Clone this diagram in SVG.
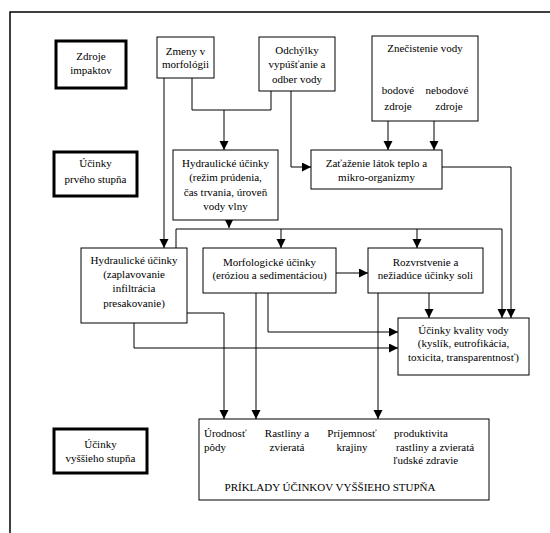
<svg xmlns="http://www.w3.org/2000/svg" width="550" height="533" viewBox="0 0 550 533" font-family="Liberation Serif, Times New Roman, DejaVu Serif, serif">
<style>
.box{fill:#fff;stroke:#000;stroke-width:1}
.thick{fill:#fff;stroke:#000;stroke-width:3}
text{font-family:'Liberation Serif','Times New Roman','DejaVu Serif',serif;font-size:11px;fill:#000}
.c{text-anchor:middle}
.ln{fill:none;stroke:#000;stroke-width:1}
.ar{fill:none;stroke:#000;stroke-width:1;marker-end:url(#ah)}
</style>
<defs>
<marker id="ah" markerUnits="userSpaceOnUse" markerWidth="9" markerHeight="10" refX="9" refY="4.5" orient="auto">
<path d="M0,0 L9,4.5 L0,9 z" fill="#000"/>
</marker>
</defs>
<rect width="550" height="533" fill="#fff"/>
<path d="M10,533 V12 H550" fill="none" stroke="#000" stroke-width="1.5"/>

<g id="connectors">
<path class="ar" d="M164,78 V248"/>
<path class="ln" d="M192,78 V110 H271 V91"/>
<path class="ar" d="M224,110 V150"/>
<path class="ar" d="M291,91 V167 H311"/>
<path class="ar" d="M388,121 V150"/>
<path class="ar" d="M434,121 V150"/>
<path class="ar" d="M442,167 H511 V318"/>
<path class="ar" d="M229,220 V228"/>
<path class="ar" d="M176,248 V229 H502 V318"/>
<path class="ar" d="M281,229 V248"/>
<path class="ar" d="M417,229 V248"/>
<path class="ar" d="M336,273 H368"/>
<path class="ar" d="M429,293 V318"/>
<path class="ar" d="M378,293 V419"/>
<path class="ar" d="M268,293 V332 H398"/>
<path class="ar" d="M134,323 V348 H398"/>
<path class="ar" d="M187,313 H224 V419"/>
<path class="ar" d="M256,293 V419"/>
</g>

<g id="zdroje-impaktov">
<rect class="thick" x="56" y="41" width="70" height="47"/>
<text class="c" x="91" y="60">Zdroje</text>
<text class="c" x="91" y="74">impaktov</text>
</g>
<g id="ucinky-prveho">
<rect class="thick" x="54" y="152" width="83" height="44"/>
<text class="c" x="95.5" y="167">Účinky</text>
<text class="c" x="95.5" y="183">prvého stupňa</text>
</g>
<g id="ucinky-vyssieho">
<rect class="thick" x="54" y="429" width="93" height="44"/>
<text class="c" x="100.5" y="448">Účinky</text>
<text class="c" x="100.5" y="462">vyššieho stupňa</text>
</g>

<g id="zmeny">
<rect class="box" x="157" y="37" width="57" height="41"/>
<text class="c" x="185.5" y="55">Zmeny v</text>
<text class="c" x="185.5" y="68">morfológii</text>
</g>
<g id="odchylky">
<rect class="box" x="259" y="37" width="76" height="54"/>
<text class="c" x="297" y="54">Odchýlky</text>
<text class="c" x="297" y="68">vypúšťanie a</text>
<text class="c" x="297" y="83">odber vody</text>
</g>
<g id="znecistenie">
<rect class="box" x="372" y="36" width="106" height="85"/>
<text class="c" x="425" y="52">Znečistenie vody</text>
<text class="c" x="398" y="94">bodové</text>
<text class="c" x="447" y="94">nebodové</text>
<text class="c" x="398" y="110">zdroje</text>
<text class="c" x="449" y="110">zdroje</text>
</g>
<g id="zatazenie">
<rect class="box" x="311" y="150" width="131" height="39"/>
<text class="c" x="376.5" y="167">Zaťaženie látok teplo a</text>
<text class="c" x="376.5" y="181">mikro-organizmy</text>
</g>
<g id="hydraulicke-rezim">
<rect class="box" x="173" y="150" width="105" height="70"/>
<text class="c" x="225.5" y="167">Hydraulické účinky</text>
<text class="c" x="225.5" y="181">(režim prúdenia,</text>
<text class="c" x="225.5" y="196">čas trvania, úroveň</text>
<text class="c" x="225.5" y="210">vody vlny</text>
</g>
<g id="hydraulicke-zaplavovanie">
<rect class="box" x="81" y="248" width="106" height="75"/>
<text class="c" x="134" y="264">Hydraulické účinky</text>
<text class="c" x="134" y="278">(zaplavovanie</text>
<text class="c" x="134" y="292">infiltrácia</text>
<text class="c" x="134" y="307">presakovanie)</text>
</g>
<g id="morfologicke">
<rect class="box" x="203" y="248" width="133" height="45"/>
<text class="c" x="269.5" y="266">Morfologické účinky</text>
<text class="c" x="269.5" y="279">(eróziou a sedimentáciou)</text>
</g>
<g id="rozvrstvenie">
<rect class="box" x="368" y="248" width="115" height="45"/>
<text class="c" x="425.5" y="266">Rozvrstvenie a</text>
<text class="c" x="425.5" y="279">nežiadúce účinky soli</text>
</g>
<g id="kvalita">
<rect class="box" x="398" y="318" width="131" height="57"/>
<text class="c" x="463.5" y="334">Účinky kvality vody</text>
<text class="c" x="463.5" y="347">(kyslík, eutrofikácia,</text>
<text class="c" x="463.5" y="361">toxicita, transparentnosť)</text>
</g>
<g id="priklady">
<rect class="box" x="199" y="419" width="290" height="81"/>
<text x="204" y="437">Úrodnosť</text>
<text x="204" y="451">pôdy</text>
<text class="c" x="287" y="437">Rastliny a</text>
<text class="c" x="287" y="451">zvieratá</text>
<text class="c" x="352" y="437">Príjemnosť</text>
<text class="c" x="352" y="451">krajiny</text>
<text x="394" y="437">produktivita</text>
<text x="396" y="451">rastliny a zvieratá</text>
<text x="393" y="464">ľudské zdravie</text>
<text class="c" x="330" y="491">PRÍKLADY ÚČINKOV VYŠŠIEHO STUPŇA</text>
</g>
</svg>
